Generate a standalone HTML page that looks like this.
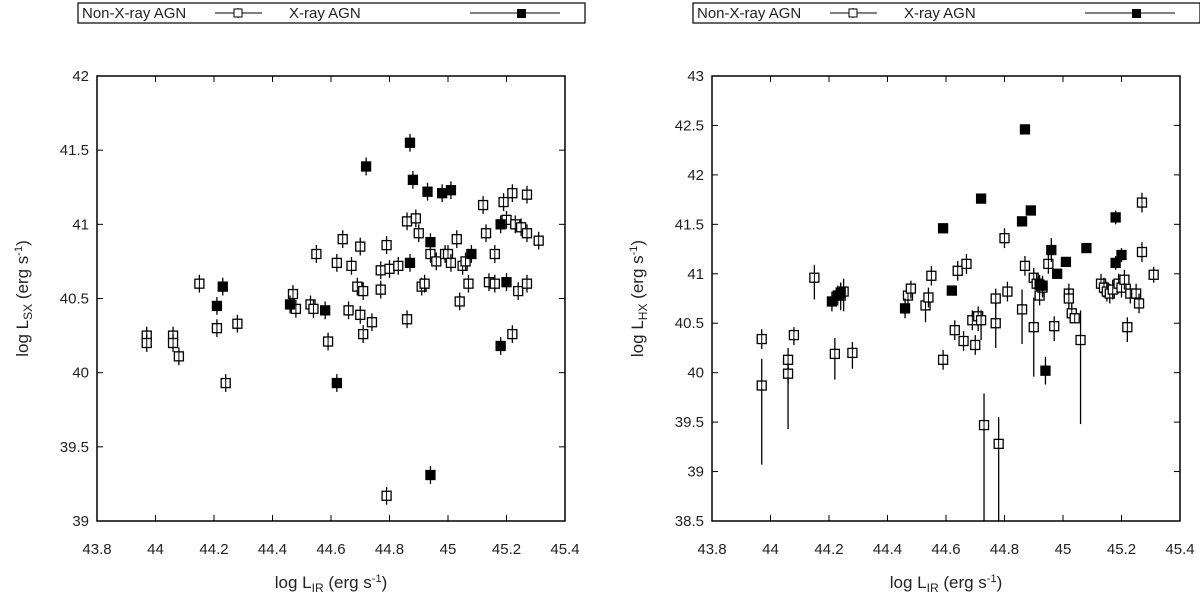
<!DOCTYPE html>
<html><head><meta charset="utf-8"><style>
body{margin:0;background:#fff;width:1200px;height:598px;overflow:hidden}
svg text{font-family:"Liberation Sans",sans-serif;fill:#222}
</style></head><body>
<svg id="c" width="1200" height="598"></svg>
<script>
const xTicks=[43.8,44,44.2,44.4,44.6,44.8,45,45.2,45.4];
const ySxTicks=[39,39.5,40,40.5,41,41.5,42];
const yHxTicks=[38.5,39,39.5,40,40.5,41,41.5,42,42.5,43];
const sxNonX=[43.97,43.97,44.06,44.06,44.08,44.15,44.21,44.24,44.28,44.47,44.48,44.53,44.54,44.55,44.59,44.62,44.64,44.66,44.67,44.69,44.70,44.70,44.71,44.71,44.74,44.77,44.77,44.79,44.79,44.80,44.83,44.86,44.86,44.89,44.90,44.91,44.92,44.94,44.96,44.99,45.00,45.01,45.03,45.04,45.05,45.06,45.07,45.12,45.13,45.14,45.16,45.16,45.19,45.2,45.22,45.23,45.24,45.25,45.27,45.27,45.27,45.22,45.31];
const sxNonY=[40.25,40.2,40.25,40.2,40.11,40.6,40.3,39.93,40.33,40.53,40.43,40.46,40.43,40.8,40.21,40.74,40.9,40.42,40.72,40.58,40.39,40.85,40.26,40.55,40.34,40.56,40.69,40.86,39.17,40.7,40.72,40.36,41.02,41.04,40.94,40.58,40.6,40.8,40.75,40.8,40.8,40.74,40.9,40.48,40.72,40.75,40.6,41.13,40.94,40.61,40.8,40.6,41.15,41.03,41.21,41.0,40.55,40.98,41.2,40.6,40.94,40.26,40.89];
const sxAgnX=[44.21,44.23,44.46,44.58,44.62,44.72,44.87,44.88,44.93,44.98,45.01,44.87,44.94,45.08,45.18,45.2,45.18,44.94];
const sxAgnY=[40.45,40.58,40.46,40.42,39.93,41.39,41.55,41.3,41.22,41.21,41.23,40.74,40.88,40.8,41.0,40.61,40.18,39.31];
const hxNonX=[43.97,43.97,44.06,44.06,44.08,44.15,44.22,44.24,44.25,44.28,44.47,44.48,44.53,44.54,44.55,44.59,44.63,44.64,44.66,44.67,44.69,44.7,44.71,44.72,44.73,44.77,44.77,44.78,44.8,44.81,44.86,44.87,44.9,44.9,44.91,44.92,44.93,44.95,44.97,45.02,45.02,45.03,45.04,45.06,45.13,45.14,45.15,45.16,45.17,45.19,45.2,45.21,45.22,45.23,45.25,45.26,45.27,45.27,45.31];
const hxNonY=[40.34,39.87,40.13,39.99,40.38,40.96,40.19,40.78,40.82,40.2,40.78,40.85,40.68,40.76,40.98,40.13,40.43,41.03,40.32,41.1,40.53,40.28,40.57,40.53,39.47,40.75,40.5,39.28,41.36,40.82,40.64,41.08,40.46,40.96,40.9,40.78,40.86,41.1,40.47,40.8,40.75,40.6,40.55,40.33,40.9,40.86,40.82,40.8,40.84,40.9,40.86,40.94,40.46,40.8,40.8,40.7,41.22,41.72,40.99];
const hxNonLo=[.1,.8,.7,.1,.1,.22,.26,.15,.2,.16,.1,.1,.17,.1,.1,.1,.1,.1,.1,.1,.1,.1,.15,.2,1.0,.1,.25,.8,.1,.1,.35,.1,.5,.1,.1,.1,.1,.1,.15,.1,.1,.1,.05,.85,.1,.1,.1,.1,.1,.1,.1,.1,.15,.1,.1,.1,.1,.1,.08];
const hxNonHi=[.1,.27,.12,.1,.08,.13,.16,.13,.13,.11,.1,.08,.1,.1,.1,.1,.1,.1,.1,.1,.1,.1,.1,.1,.32,.1,.2,.27,.1,.1,.2,.1,.3,.1,.1,.1,.1,.1,.1,.1,.1,.1,.05,.3,.1,.1,.1,.1,.1,.1,.1,.1,.1,.1,.1,.1,.1,.1,.08];
const hxAgnX=[44.21,44.23,44.24,44.46,44.59,44.62,44.72,44.86,44.87,44.89,44.92,44.93,44.94,44.96,44.98,45.01,45.08,45.18,45.18,45.2];
const hxAgnY=[40.72,40.78,40.81,40.65,41.46,40.83,41.76,41.53,42.46,41.64,40.89,40.88,40.02,41.24,41.0,41.12,41.26,41.57,41.11,41.19];
const hxAgnErr=[.1,.1,.1,.1,.05,.05,.05,.05,.05,.05,.1,.1,.14,.12,.05,.05,.05,.07,.07,.07];

const NS="http://www.w3.org/2000/svg";
const svg=document.getElementById('c');
function mk(tag,attrs,parent){const e=document.createElementNS(NS,tag);for(const k in attrs)e.setAttribute(k,attrs[k]);(parent||svg).appendChild(e);return e;}

function panel(ox,ymin,ymax,yTicks,ylab,nx,ny,nlo,nhi,ax,ay,alo,ahi,pname){
  const L=ox,R=ox+468,T=76,B=521;
  const g=mk('g',{});
  
  
  const X=v=>L+(v-43.8)/(1.6)*(R-L);
  const Y=v=>B-(v-ymin)/(ymax-ymin)*(B-T);
  const fr=mk('rect',{x:L,y:T,width:R-L,height:B-T,fill:'none',stroke:'#000','stroke-width':1.5},g);
  
  
  xTicks.forEach(t=>{const x=X(t);
    mk('line',{x1:x,x2:x,y1:B,y2:B-6,stroke:'#000'},g);mk('line',{x1:x,x2:x,y1:T,y2:T+6,stroke:'#000'},g);
    const tx=mk('text',{x:x,y:554,'text-anchor':'middle','font-size':15},g);tx.textContent=String(t);
    
    });
  yTicks.forEach(t=>{const y=Y(t);
    mk('line',{x1:L,x2:L+6,y1:y,y2:y,stroke:'#000'},g);mk('line',{x1:R,x2:R-6,y1:y,y2:y,stroke:'#000'},g);
    const tx=mk('text',{x:L-8,y:y+5,'text-anchor':'end','font-size':15},g);tx.textContent=String(t);
    
    });
  const xt=mk('text',{x:(L+R)/2,y:588,'text-anchor':'middle','font-size':17},g);
  xt.innerHTML='log L<tspan font-size="12" dy="4">IR</tspan><tspan dy="-4"> (erg s</tspan><tspan font-size="11" dy="-6">-1</tspan><tspan dy="6">)</tspan>';
  
  
  const yt=mk('text',{x:0,y:0,'text-anchor':'middle','font-size':17,transform:`translate(${L-69},${(T+B)/2}) rotate(-90)`},g);
  yt.innerHTML='log L<tspan font-size="12" dy="4">'+ylab+'</tspan><tspan dy="-4"> (erg s</tspan><tspan font-size="11" dy="-6">-1</tspan><tspan dy="6">)</tspan>';
  
  
  function pt(x,y,lo,hi,filled){
    const cx=X(x),cy=Y(y);
    if(lo>0||hi>0){const l=mk('line',{x1:cx,x2:cx,y1:Math.min(B,Y(y-lo)),y2:Y(y+hi),stroke:'#000','stroke-width':1.3},g);
      
      }
    const r=mk('rect',{x:cx-4.5,y:cy-4.5,width:9,height:9,fill:filled?'#000':'#fff',stroke:'#000','stroke-width':1.3},g);
    
    
    if(!filled){mk('line',{x1:cx,x2:cx,y1:cy-4.5,y2:cy+4.5,stroke:'#000','stroke-width':1},g);}
  }
  nx.forEach((x,i)=>pt(x,ny[i],nlo[i],nhi[i],false));
  ax.forEach((x,i)=>pt(x,ay[i],alo[i],ahi[i],true));
  // legend
  const lg=mk('g',{},);
  
  
  const lx=ox-19;
  mk('rect',{x:lx,y:3,width:507,height:20,fill:'#fff',stroke:'#000','stroke-width':1.2},lg);
  const t1=mk('text',{x:lx+4,y:18,'font-size':15},lg);t1.textContent='Non-X-ray AGN';
  
  
  mk('line',{x1:lx+137,x2:lx+184,y1:13,y2:13,stroke:'#000'},lg);
  mk('line',{x1:lx+160,x2:lx+160,y1:8,y2:18,stroke:'#000'},lg);
  mk('rect',{x:lx+156,y:9,width:8,height:8,fill:'#fff',stroke:'#000'},lg);
  const t2=mk('text',{x:lx+211,y:18,'font-size':15},lg);t2.textContent='X-ray AGN';
  
  
  mk('line',{x1:lx+392,x2:lx+482,y1:13,y2:13,stroke:'#000'},lg);
  mk('rect',{x:lx+439,y:9,width:9,height:9,fill:'#000'},lg);
}
const zeros=sxNonX.map(()=>0.06);
const zerosA=sxAgnX.map(()=>0.06);
panel(97,39,42,ySxTicks,'SX',sxNonX,sxNonY,zeros,zeros,sxAgnX,sxAgnY,zerosA,zerosA,'soft-xray-panel');
panel(712,38.5,43,yHxTicks,'HX',hxNonX,hxNonY,hxNonLo,hxNonHi,hxAgnX,hxAgnY,hxAgnErr,hxAgnErr,'hard-xray-panel');
</script>
</body></html>
